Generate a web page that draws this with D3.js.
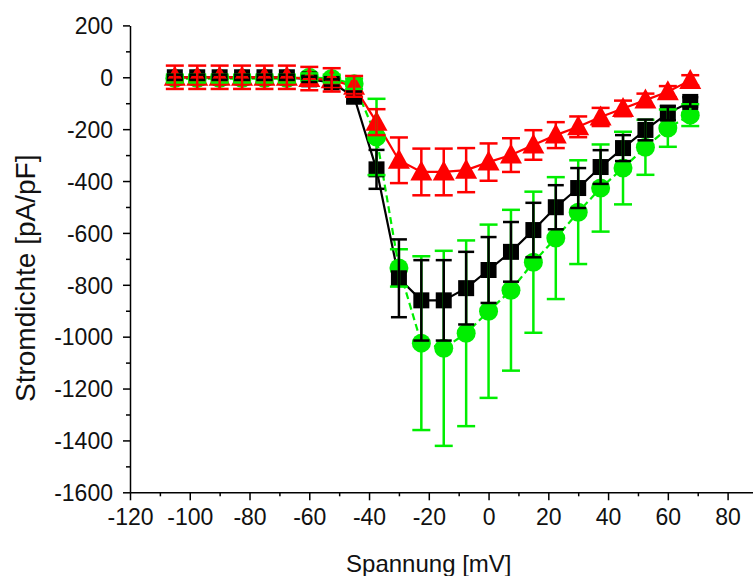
<!DOCTYPE html>
<html>
<head>
<meta charset="utf-8">
<script src="https://cdn.jsdelivr.net/npm/d3@7"></script>
<style>
  body { margin: 0; background: #fff; }
  text { font-family: Arial, "Liberation Sans", sans-serif; }
</style>
</head>
<body>
<div id="chart"></div>
<script>
// values
const volt = [-105, -97.5, -90, -82.5, -75, -67.5, -60, -52.5, -45, -37.5, -30, -22.5,
              -15, -7.5, 0, 7.5, 15, 22.5, 30, 37.5, 45, 52.5, 60, 67.5];
const blackVals = [0, 0, 0, 0, 0, 0, -8, -20, -75, -355, -775, -860,
                   -860, -813, -743, -673, -589, -501, -427, -346, -273, -203, -138, -95];
const blackErr  = [10, 10, 10, 10, 10, 10, 10, 12, 20, 75, 150, 155,
                   155, 140, 127, 115, 105, 85, 77, 65, 50, 40, 28, 18];
const greenVals = [-5, -5, -5, -5, -5, -5, 0, -5, -25, -230, -735, -1025,
                   -1045, -987, -902, -821, -713, -620, -520, -427, -350, -270, -196, -146];
const greenErr  = [15, 15, 15, 15, 15, 15, 15, 15, 20, 147, 72, 335,
                   376, 358, 334, 310, 272, 235, 200, 168, 140, 106, 72, 42];
const redVals   = [0, 0, 0, 0, 0, 0, -5, -10, -35, -173, -320, -365,
                   -365, -358, -327, -300, -261, -223, -191, -153, -120, -88, -56, -12];
const redErr    = [45, 45, 45, 45, 45, 45, 45, 45, 40, 50, 88, 90,
                   90, 85, 72, 65, 57, 50, 40, 35, 30, 25, 22, 20];
const xTicks = [-120, -100, -80, -60, -40, -20, 0, 20, 40, 60, 80];
const yTicks = [-1600, -1400, -1200, -1000, -800, -600, -400, -200, 0, 200];

const margin = {top: 25.4, right: 0, bottom: 83.7, left: 130},
    width = 753 - margin.left - margin.right,
    height = 576 - margin.top - margin.bottom;

const svg = d3.select("#chart")
  .append("svg")
    .attr("width", 753)
    .attr("height", 576)
  .append("g")
    .attr("transform", `translate(${margin.left},${margin.top})`);

const x = d3.scaleLinear().domain([-120, 88.5]).range([0, width]);
const y = d3.scaleLinear().domain([-1600, 200]).range([height, 0]);

// minor ticks first, then major axes
const xMinor = d3.range(-110, 81, 20);
const yMinor = d3.range(-1500, 101, 200);

svg.append("g")
  .attr("transform", `translate(0,${height})`)
  .call(d3.axisBottom(x).tickValues(xMinor).tickSize(4).tickFormat(""))
  .call(g => g.select(".domain").remove())
  .selectAll("line").attr("stroke-width", 1.5);
svg.append("g")
  .call(d3.axisLeft(y).tickValues(yMinor).tickSize(4).tickFormat(""))
  .call(g => g.select(".domain").remove())
  .selectAll("line").attr("stroke-width", 1.5);

const plain = d => String(d);
const xAxis = svg.append("g")
  .attr("transform", `translate(0,${height})`)
  .call(d3.axisBottom(x).tickValues(xTicks).tickFormat(plain).tickSize(8).tickSizeOuter(0).tickPadding(8));
const yAxis = svg.append("g")
  .call(d3.axisLeft(y).tickValues(yTicks).tickFormat(plain).tickSize(7).tickSizeOuter(0).tickPadding(10));

[xAxis, yAxis].forEach(a => {
  a.select(".domain").attr("stroke-width", 1.5);
  a.selectAll("line").attr("stroke-width", 1.5);
  a.selectAll("text").style("font-size", "23px").attr("fill", "#111");
});
yAxis.selectAll("text").attr("dy", "0.36em");

// axis titles
svg.append("text")
  .attr("x", x(-20))
  .attr("y", height + 80)
  .attr("text-anchor", "middle")
  .style("font-size", "24px")
  .attr("fill", "#111")
  .text("Spannung [mV]");
svg.append("text")
  .attr("transform", `translate(${-95},${y(-775)}) rotate(-90)`)
  .attr("text-anchor", "middle")
  .style("font-size", "28px")
  .attr("fill", "#111")
  .text("Stromdichte [pA/pF]");

const series = [
  {vals: greenVals, err: greenErr, color: "#00ee00", shape: "circle", dash: "7,4", cap: 9},
  {vals: blackVals, err: blackErr, color: "#000000", shape: "square", dash: null, cap: 8},
  {vals: redVals,   err: redErr,   color: "#ff0000", shape: "triangle", dash: null, cap: 9}
];

const line = d3.line().x(d => x(d.v)).y(d => y(d.i));

series.forEach(s => {
  s.data = volt.map((v, k) => ({v: v, i: s.vals[k], e: s.err[k]}));
});

// connecting lines
series.forEach(s => {
  svg.append("path")
    .datum(s.data)
    .attr("fill", "none")
    .attr("stroke", s.color)
    .attr("stroke-width", 2.2)
    .attr("stroke-dasharray", s.dash)
    .attr("d", line);
});

// markers
series.forEach(s => {
  const g = svg.append("g").attr("fill", s.color);
  if (s.shape === "circle") {
    g.selectAll("circle").data(s.data).join("circle")
      .attr("cx", d => x(d.v)).attr("cy", d => y(d.i)).attr("r", 9.5);
  } else if (s.shape === "square") {
    g.selectAll("rect").data(s.data).join("rect")
      .attr("x", d => x(d.v) - 8).attr("y", d => y(d.i) - 8)
      .attr("width", 16).attr("height", 16);
  } else {
    g.selectAll("path").data(s.data).join("path")
      .attr("d", d => {
        const cx = x(d.v), cy = y(d.i);
        return `M${cx},${cy - 11.5}L${cx + 11},${cy + 8.5}L${cx - 11},${cy + 8.5}Z`;
      });
  }
});

// error bars on top
series.forEach(s => {
  const g = svg.append("g").attr("stroke", s.color).attr("stroke-width", 2.5);
  s.data.forEach(d => {
    const cx = x(d.v), y0 = y(d.i + d.e), y1 = y(d.i - d.e);
    g.append("line").attr("x1", cx).attr("x2", cx).attr("y1", y0).attr("y2", y1);
    g.append("line").attr("x1", cx - s.cap).attr("x2", cx + s.cap).attr("y1", y0).attr("y2", y0);
    g.append("line").attr("x1", cx - s.cap).attr("x2", cx + s.cap).attr("y1", y1).attr("y2", y1);
  });
});
</script>
</body>
</html>
